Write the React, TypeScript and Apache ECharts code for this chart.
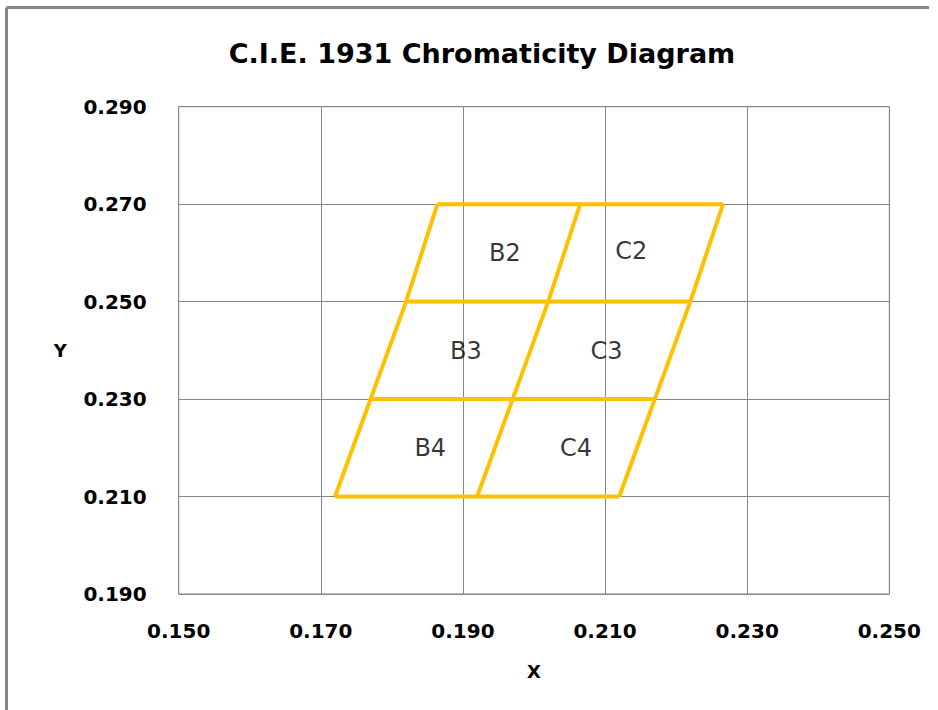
import React, { useEffect, useRef } from "react";
import * as echarts from "echarts";

const titleText = "C.I.E. 1931 Chromaticity Diagram";
const yLevels = [0.21, 0.23, 0.25, 0.27];
const leftX = [0.172, 0.177, 0.182, 0.1864];
const midX = [0.192, 0.197, 0.202, 0.2065];
const rightX = [0.212, 0.217, 0.222, 0.2266];
const binNames = ["B2", "C2", "B3", "C3", "B4", "C4"];
const binX = [0.1959, 0.2137, 0.1904, 0.2102, 0.1854, 0.2059];
const binY = [0.2599, 0.2604, 0.2399, 0.2399, 0.2199, 0.2199];

const FONT = "DejaVu Sans";
const GOLD = "#FFC000";
const GRID = "#868686";

export default function App() {
  const ref = useRef<HTMLDivElement>(null);
  useEffect(() => {
    document.body.style.margin = "0";
    const chart = echarts.init(ref.current!, null, { renderer: "svg" });
    const lineSeries: any[] = [];
    yLevels.forEach((y, i) => {
      lineSeries.push({
        type: "line",
        data: [
          [leftX[i], y],
          [midX[i], y],
          [rightX[i], y],
        ],
        symbol: "none",
        lineStyle: { color: GOLD, width: 4 },
        silent: true,
        z: 3,
      });
    });
    [leftX, midX, rightX].forEach((xs) => {
      lineSeries.push({
        type: "line",
        data: xs.map((x, i) => [x, yLevels[i]]),
        symbol: "none",
        lineStyle: { color: GOLD, width: 4 },
        silent: true,
        z: 3,
      });
    });
    const labelSeries = {
      type: "scatter",
      symbolSize: 0,
      z: 4,
      data: binNames.map((n, i) => ({ name: n, value: [binX[i], binY[i]] })),
      label: {
        show: true,
        position: "inside",
        formatter: (p: any) => p.name,
        color: "#000",
        fontFamily: FONT,
        fontSize: 24,
      },
    };
    chart.setOption({
      animation: false,
      backgroundColor: "#fff",
      title: {
        text: titleText,
        left: 477,
        textAlign: "center",
        top: 35,
        textStyle: { fontFamily: FONT, fontWeight: "bold", fontSize: 27, color: "#000" },
      },
      grid: {
        left: 178.7,
        right: 48.7,
        top: 106.7,
        bottom: 116,
        show: true,
        borderColor: GRID,
        borderWidth: 1,
      },
      xAxis: {
        type: "value",
        min: 0.15,
        max: 0.25,
        interval: 0.02,
        name: "X",
        nameLocation: "middle",
        nameGap: 68,
        nameTextStyle: { fontFamily: FONT, fontWeight: "bold", fontSize: 18, color: "#000" },
        axisLine: { show: false },
        axisTick: { show: false },
        splitLine: { lineStyle: { color: GRID, width: 1 } },
        axisLabel: {
          margin: 27,
          formatter: (v: number) => v.toFixed(3),
          fontFamily: FONT,
          fontWeight: "bold",
          fontSize: 20,
          color: "#000",
        },
      },
      yAxis: {
        type: "value",
        min: 0.19,
        max: 0.29,
        interval: 0.02,
        name: "Y",
        nameLocation: "middle",
        nameRotate: 0,
        nameGap: 112,
        nameTextStyle: { fontFamily: FONT, fontWeight: "bold", fontSize: 18, color: "#000" },
        axisLine: { show: false },
        axisTick: { show: false },
        splitLine: { lineStyle: { color: GRID, width: 1 } },
        axisLabel: {
          margin: 32,
          formatter: (v: number) => v.toFixed(3),
          fontFamily: FONT,
          fontWeight: "bold",
          fontSize: 20,
          color: "#000",
        },
      },
      graphic: [
        { type: "line", shape: { x1: 6.5, y1: 7.5, x2: 929, y2: 7.5 }, style: { stroke: GRID, lineWidth: 3 } },
        { type: "line", shape: { x1: 6.5, y1: 7.5, x2: 6.5, y2: 710 }, style: { stroke: GRID, lineWidth: 3 } },
      ],
      series: [...lineSeries, labelSeries],
    });
    return () => chart.dispose();
  }, []);
  return <div ref={ref} style={{ width: 938, height: 710 }} />;
}
